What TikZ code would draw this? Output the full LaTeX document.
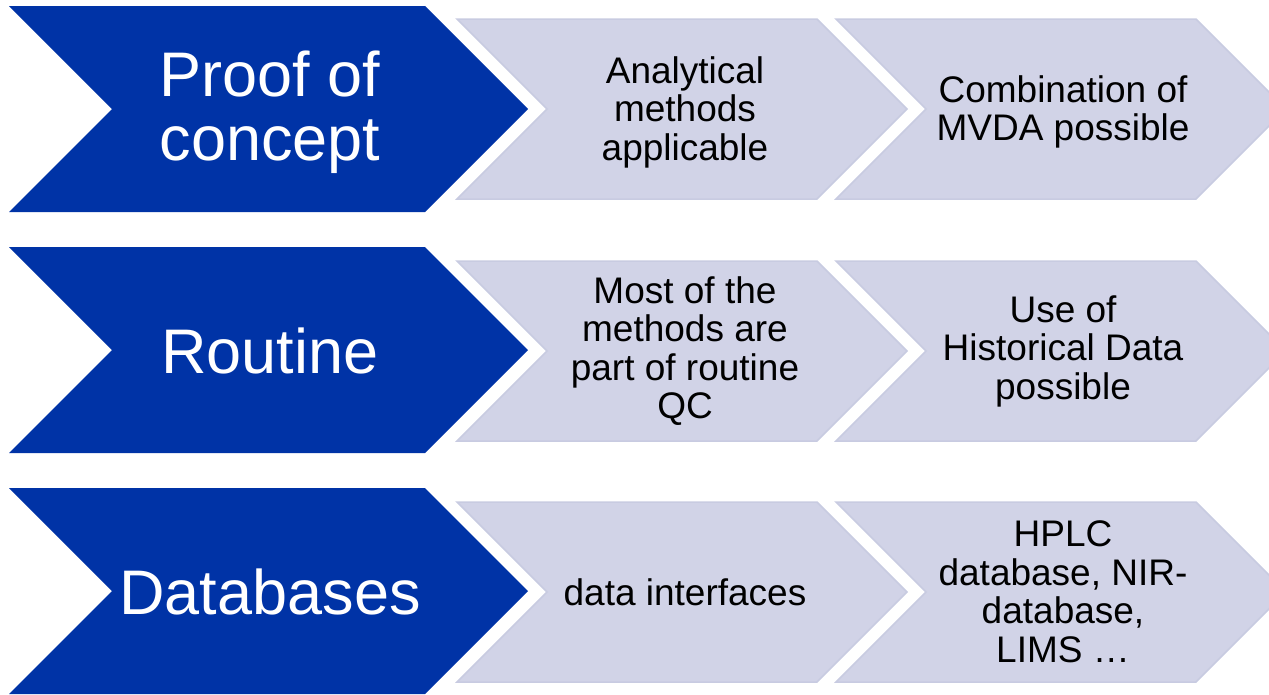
\documentclass[tikz,border=0pt]{standalone}
\usepackage{fontspec}
\setmainfont{Liberation Sans}
\definecolor{stageblue}{RGB}{0,51,166}
\definecolor{steplight}{RGB}{209,211,231}
\definecolor{stepedge}{RGB}{200,203,225}
\tikzset{
  bluechev/.style={fill=stageblue, draw=none},
  lightchev/.style={fill=steplight, draw=stepedge, line width=1.5pt, line join=miter},
  bigtext/.style={text=white, align=center, inner sep=0pt,
    font=\fontsize{63}{64}\selectfont},
  smalltext/.style={text=black, align=center, inner sep=0pt,
    font=\fontsize{37}{38.5}\selectfont}
}
% blue stage chevron centred vertically on #1
\newcommand{\stagechev}[1]{%
  \fill[bluechev] (9,#1-103) -- (425,#1-103) -- (528,#1) -- (425,#1+103)
    -- (9,#1+103) -- (112,#1) -- cycle;}
% light step chevron: left edge #1, row centre #2
\newcommand{\stepchev}[2]{%
  \filldraw[lightchev] (#1,#2-90) -- (#1+360,#2-90) -- (#1+450,#2) -- (#1+360,#2+90)
    -- (#1,#2+90) -- (#1+90,#2) -- cycle;}
\begin{document}
\begin{tikzpicture}[x=1pt,y=-1pt]
\useasboundingbox (0,0) rectangle (1269,694);
\clip (0,0) rectangle (1269,694);

% row 1
\stagechev{109}
\stepchev{457}{109}
\stepchev{836}{109}
\node[bigtext] (poc) at (270,112) {Proof of\\concept};
\node[smalltext] (ana) at (685,112) {Analytical\\methods\\applicable};
\node[smalltext] (mvda) at (1063,112) {Combination of\\MVDA possible};

% row 2
\stagechev{350}
\stepchev{457}{351}
\stepchev{836}{351}
\node[bigtext] (rout) at (270,351) {Routine};
\node[smalltext] (qc) at (685,351) {Most of the\\methods are\\part of routine\\QC};
\node[smalltext] (hist) at (1063,351) {Use of\\Historical Data\\possible};

% row 3
\stagechev{591}
\stepchev{457}{592}
\stepchev{836}{592}
\node[bigtext] (db) at (270,592) {Databases};
\node[smalltext] (iface) at (685,592) {data interfaces};
\node[smalltext] (hplc) at (1063,592) {HPLC\\database, NIR-\\database,\\LIMS …};
\end{tikzpicture}
\end{document}
